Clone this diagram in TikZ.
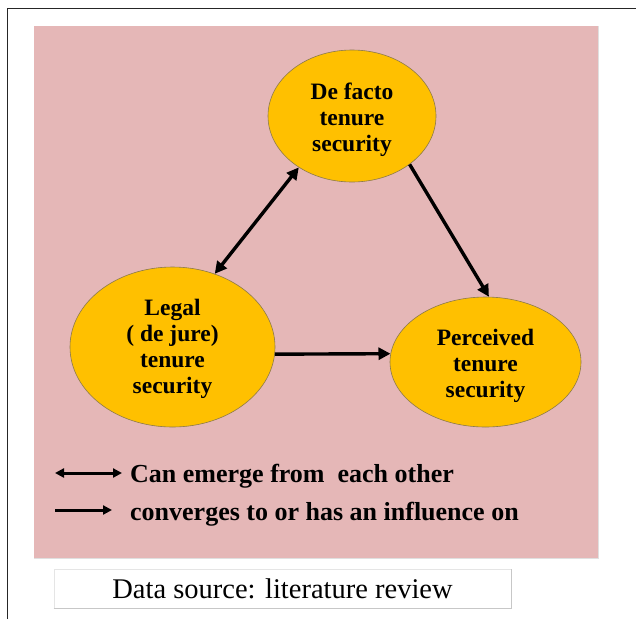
\documentclass[tikz,border=0pt]{standalone}
\usepackage{fontspec}
\setmainfont{Liberation Serif}
\usetikzlibrary{shapes.geometric,arrows.meta}
\definecolor{bgpink}{HTML}{E5B7B7}
\definecolor{gold}{HTML}{FFC000}
\definecolor{goldedge}{HTML}{8C7A4A}
\newcommand{\lowertext}{\rule{0pt}{24pt}}
\begin{document}
\begin{tikzpicture}[x=1pt,y=-1pt,
  oval/.style={ellipse,fill=gold,draw=goldedge,line width=0.6pt,inner sep=0pt,align=center,
    font=\bfseries\fontsize{23.5}{26}\selectfont},
  link/.style={line width=3.4pt,-{Triangle[length=12pt,width=12pt]}},
  duallink/.style={line width=3.4pt,{Triangle[length=12pt,width=12pt]}-{Triangle[length=12pt,width=12pt]}},
  legarrow/.style={line width=3pt,-{Triangle[length=9pt,width=9pt]}},
  legdual/.style={line width=3pt,{Triangle[length=9pt,width=9pt]}-{Triangle[length=9pt,width=9pt]}},
  legtext/.style={anchor=base west,inner sep=0pt,font=\bfseries\fontsize{26}{30}\selectfont},
  capbox/.style={fill=white,draw=black!10,line width=0.6pt,minimum width=457pt,minimum height=39pt,inner sep=0pt,
    font=\fontsize{28.5}{32}\selectfont}
]
\useasboundingbox (0,0) rectangle (636,619);
\fill[white] (0,0) rectangle (636,619);
\draw[line width=1.5pt,black!85] (7.3,619) -- (7.3,8.3) -- (636,8.3);
\fill[bgpink] (33.5,26) rectangle (597.5,558);
\draw[black!12,line width=1pt] (34,558.5) -- (598,558.5) -- (598,26);

\node[oval,minimum width=168pt,minimum height=132pt] (defacto) at (352,116) {\lowertext De facto\\tenure\\security};
\node[oval,minimum width=205pt,minimum height=160pt] (legal) at (172.5,347) {\rule{0pt}{21pt}Legal\\( de jure)\\tenure\\security};
\node[oval,minimum width=191pt,minimum height=130pt] (perc) at (485.5,362) {\lowertext Perceived\\tenure\\security};

\draw[duallink] (legal.60.5) -- (defacto.224.5);
\draw[link] (defacto.320.8) -- (perc.87);
\draw[link] (legal.-4) -- (perc.175);

\coordinate (l1a) at (55,473);
\coordinate (l1b) at (122,473);
\coordinate (l2a) at (55,510);
\coordinate (l2b) at (112,510);
\draw[legdual] (l1a) -- (l1b);
\draw[legarrow] (l2a) -- (l2b);
\node[legtext] (t1) at (130,482) {Can emerge from\ \ each other};
\node[legtext] (t2) at (130,520) {converges to or has an influence on};

\node[capbox] (cap) at (282.5,588.5) {Data source: literature review};
\draw[black!22,line width=1.2pt] (cap.south west) -- (cap.south east) -- (cap.north east);
\end{tikzpicture}
\end{document}
